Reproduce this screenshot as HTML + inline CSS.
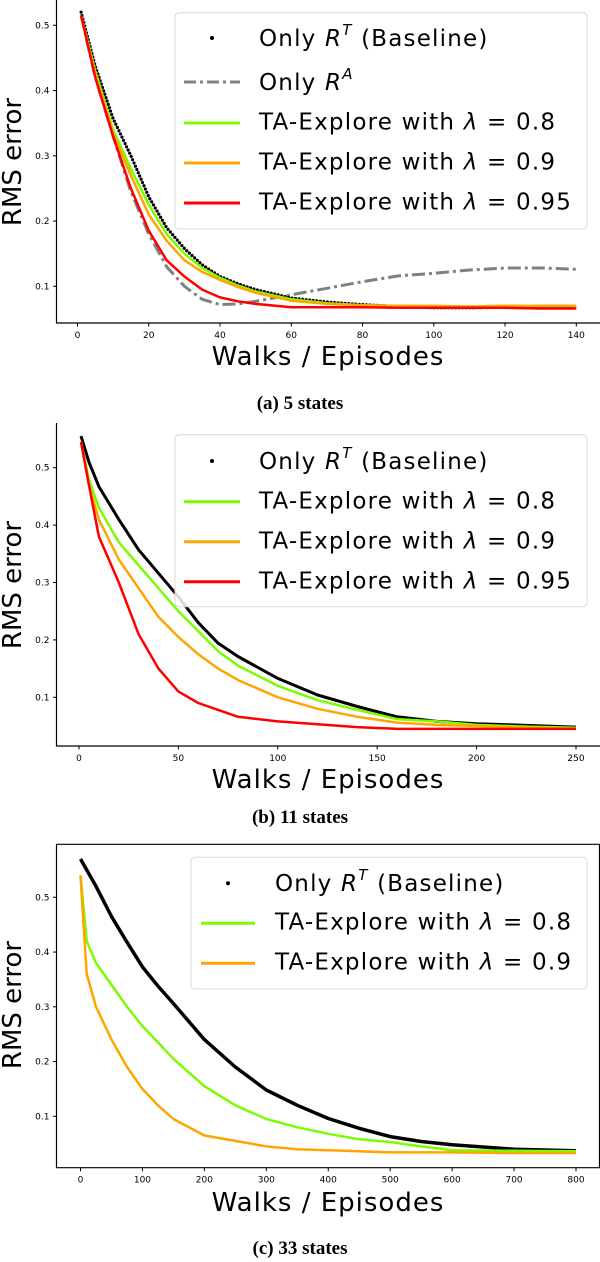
<!DOCTYPE html>
<html><head><meta charset="utf-8"><style>
body{margin:0;background:#fff;width:600px;height:1262px;overflow:hidden;position:relative;font-family:"DejaVu Sans","Liberation Sans",sans-serif}
.lt{position:absolute;font-size:23px;letter-spacing:1.2px;white-space:nowrap;line-height:1;transform:translateY(-50%)}
.cap{position:absolute;font-family:"Liberation Serif",serif;font-weight:bold;font-size:19px;transform:translateX(-50%);white-space:nowrap}
.xl{position:absolute;font-size:26px;letter-spacing:1px;white-space:nowrap;transform:translate(-50%,-50%)}
.yl{position:absolute;font-size:26px;white-space:nowrap;transform:translate(-50%,-50%) rotate(-90deg)}
</style></head><body>
<svg id="chart" width="600" height="1262" style="position:absolute;left:0;top:0"></svg>
<div id="txt"></div>
<script>
// ---- Panel A (5 states) data ----
const aX=[1,5,10,15,20,25,30,35,40,45,50,60,70,80,90,100,110,120,130,140];
const aBase=[0.52,0.437,0.357,0.30,0.237,0.19,0.158,0.133,0.115,0.104,0.095,0.082,0.076,0.072,0.069,0.067,0.067,0.068,0.068,0.068];
const aG8=[0.515,0.43,0.34,0.28,0.225,0.18,0.15,0.128,0.113,0.101,0.092,0.08,0.074,0.071,0.07,0.069,0.069,0.07,0.07,0.07];
const aO9=[0.515,0.425,0.335,0.27,0.21,0.17,0.14,0.122,0.11,0.099,0.09,0.078,0.073,0.071,0.07,0.07,0.069,0.07,0.07,0.07];
const aR95=[0.515,0.42,0.33,0.25,0.185,0.14,0.115,0.095,0.083,0.077,0.073,0.068,0.068,0.068,0.067,0.067,0.067,0.067,0.066,0.066];
const aRA=[0.515,0.42,0.33,0.245,0.18,0.13,0.1,0.08,0.072,0.073,0.077,0.087,0.097,0.107,0.116,0.12,0.125,0.128,0.128,0.126];
const aXt=[0,20,40,60,80,100,120,140];
const aYt=[0.1,0.2,0.3,0.4,0.5];
// ---- Panel B (11 states) data ----
const bX=[1,5,10,20,30,40,50,60,70,80,100,120,140,160,180,200,225,250];
const bBase=[0.555,0.51,0.467,0.41,0.357,0.316,0.275,0.23,0.194,0.171,0.133,0.104,0.084,0.066,0.058,0.054,0.051,0.048];
const bG8=[0.545,0.48,0.43,0.37,0.33,0.29,0.25,0.215,0.18,0.155,0.12,0.095,0.078,0.062,0.058,0.052,0.049,0.047];
const bO9=[0.545,0.47,0.41,0.34,0.29,0.24,0.205,0.175,0.15,0.13,0.1,0.08,0.066,0.056,0.052,0.05,0.047,0.045];
const bR95=[0.545,0.47,0.38,0.3,0.21,0.15,0.11,0.09,0.078,0.066,0.058,0.053,0.048,0.045,0.045,0.045,0.045,0.045];
const bXt=[0,50,100,150,200,250];
const bYt=[0.1,0.2,0.3,0.4,0.5];
// ---- Panel C (33 states) data ----
const cX=[0,10,25,50,75,100,125,150,200,250,300,350,400,450,500,550,600,700,800];
const cBase=[0.57,0.55,0.52,0.465,0.418,0.373,0.338,0.306,0.24,0.19,0.148,0.12,0.096,0.078,0.063,0.054,0.048,0.04,0.037];
const cG8=[0.54,0.42,0.38,0.34,0.3,0.265,0.235,0.205,0.155,0.12,0.095,0.08,0.068,0.058,0.053,0.045,0.038,0.037,0.036];
const cO9=[0.54,0.36,0.3,0.24,0.19,0.15,0.12,0.095,0.065,0.055,0.045,0.04,0.038,0.036,0.034,0.034,0.034,0.033,0.033];
const cXt=[0,100,200,300,400,500,600,700,800];
const cYt=[0.1,0.2,0.3,0.4,0.5];

const NS="http://www.w3.org/2000/svg";
const svg=document.getElementById('chart');
const txt=document.getElementById('txt');
function el(tag,attrs,parent){const e=document.createElementNS(NS,tag);for(const k in attrs)e.setAttribute(k,attrs[k]);(parent||svg).appendChild(e);return e;}
function div(cls,html,css){const d=document.createElement('div');d.className=cls;d.innerHTML=html;d.style.cssText=css;txt.appendChild(d);return d;}

function panel(p){
  const sx=v=>p.x0px+(v-p.x0v)*(p.x1px-p.x0px)/(p.x1v-p.x0v);
  const sy=v=>p.y5px-(0.5-v)*(p.y5px-p.y1px)/0.4;
  const g=el('g',{});
  
  
  const cid=p.name+'-clip';
  const cp=el('clipPath',{id:cid},g);el('rect',{x:p.left,y:p.top,width:600-p.left,height:p.bottom-p.top},cp);
  const ax=el('path',{d:`M${p.left},${p.top}V${p.bottom}H600`+(p.box?`M${p.left},${p.top}H599.5V${p.bottom}`:''),fill:'none',stroke:'#000','stroke-width':1.2},g);
  
  
  p.xt.forEach(v=>{
    el('line',{x1:sx(v),x2:sx(v),y1:p.bottom,y2:p.bottom+3.5,stroke:'#000','stroke-width':1},g);
    const t=el('text',{x:sx(v),y:p.bottom+15,'font-size':9,'text-anchor':'middle','font-family':'DejaVu Sans,sans-serif'},g);
    t.textContent=String(v);
    
    
  });
  p.yt.forEach(v=>{
    el('line',{x1:p.left-3.5,x2:p.left,y1:sy(v),y2:sy(v),stroke:'#000','stroke-width':1},g);
    const t=el('text',{x:p.left-7,y:sy(v)+3,'font-size':9,'text-anchor':'end','font-family':'DejaVu Sans,sans-serif'},g);
    t.textContent=v.toFixed(1);
    
    
  });
  const lines=el('g',{'clip-path':`url(#${cid})`},g);
  p.series.forEach(s=>{
    const d=s.y.map((v,i)=>(i?'L':'M')+sx(p.xs[i]).toFixed(1)+','+sy(v).toFixed(1)).join('');
    const at={d:d,fill:'none',stroke:s.c,'stroke-width':s.w,'stroke-linejoin':'round','stroke-linecap':s.cap||'butt'};
    if(s.dash)at['stroke-dasharray']=s.dash;
    const l=el('path',at,lines);
    
    
  });
  const lg=el('rect',{x:p.lg[0],y:p.lg[1],width:p.lg[2]-p.lg[0],height:p.lg[3]-p.lg[1],rx:4,fill:'#fff','fill-opacity':0.85,stroke:'#d8d8d8','stroke-width':1});
  
  
  p.leg.forEach((e,i)=>{
    const y=p.rows[i];
    if(e.dot){const c=el('circle',{cx:(p.h0+p.h1)/2,cy:y,r:2,fill:'#000'});}
    else{const a={x1:p.h0,x2:p.h1,y1:y,y2:y,stroke:e.c,'stroke-width':3};if(e.dash)a['stroke-dasharray']=e.dash;const l=el('line',a);}
    const t=div('lt',e.t,`left:${p.tx}px;top:${y}px`);
    
    
  });
  const xl=div('xl','Walks / Episodes',`left:328px;top:${p.xly}px`);
  
  const yl=div('yl','RMS error',`left:13px;top:${p.yly}px`);
  
  const cap=div('cap',p.cap,`left:300px;top:${p.capy-11}px`);
  
}
const RT='Only <i>R</i><sup style="font-size:15px;position:relative;top:-2px"><i>T</i></sup> (Baseline)';
const RA='Only <i>R</i><sup style="font-size:15px;position:relative;top:-2px"><i>A</i></sup>';
const L=v=>'TA-Explore with <i>λ</i> = '+v;
panel({name:'panel-a',left:56.5,top:0,bottom:323,box:false,x0v:0,x1v:140,x0px:77.5,x1px:576.3,y5px:25.3,y1px:286.3,
  xs:aX,xt:aXt,yt:aYt,
  series:[{n:'series-only-ra',y:aRA,c:'#808080',w:3,dash:'13 4 3 4'},{n:'series-baseline',y:aBase,c:'#000',w:3.2,dash:'0 3.56',cap:'round'},
    {n:'series-lambda-0.8',y:aG8,c:'#7CFC00',w:2.5},{n:'series-lambda-0.9',y:aO9,c:'#FFA500',w:2.5},{n:'series-lambda-0.95',y:aR95,c:'#FF0000',w:2.5}],
  lg:[175,12.7,587,229],rows:[38,82,123,163,203],h0:184,h1:240,tx:259,
  leg:[{dot:1,t:RT},{c:'#808080',dash:'12 4 3 4',t:RA},{c:'#7CFC00',t:L('0.8')},{c:'#FFA500',t:L('0.9')},{c:'#FF0000',t:L('0.95')}],
  xly:357,yly:162,capy:404,cap:'(a) 5 states'});
panel({name:'panel-b',left:56.5,top:423,bottom:746,box:false,x0v:0,x1v:250,x0px:79,x1px:576,y5px:467.7,y1px:697.3,
  xs:bX,xt:bXt,yt:bYt,
  series:[{n:'series-baseline',y:bBase,c:'#000',w:3},{n:'series-lambda-0.8',y:bG8,c:'#7CFC00',w:2.5},{n:'series-lambda-0.9',y:bO9,c:'#FFA500',w:2.5},{n:'series-lambda-0.95',y:bR95,c:'#FF0000',w:2.5}],
  lg:[175,434.7,587,606.7],rows:[461,501.7,541.7,581.7],h0:184,h1:240,tx:259,
  leg:[{dot:1,t:RT},{c:'#7CFC00',t:L('0.8')},{c:'#FFA500',t:L('0.9')},{c:'#FF0000',t:L('0.95')}],
  xly:780,yly:585,capy:818,cap:'(b) 11 states'});
panel({name:'panel-c',left:56.5,top:844.3,bottom:1167.7,box:true,x0v:0,x1v:800,x0px:80.5,x1px:576,y5px:897.3,y1px:1116.3,
  xs:cX,xt:cXt,yt:cYt,
  series:[{n:'series-baseline',y:cBase,c:'#000',w:3.5},{n:'series-lambda-0.8',y:cG8,c:'#7CFC00',w:2.5},{n:'series-lambda-0.9',y:cO9,c:'#FFA500',w:2.5}],
  lg:[191,857.3,587,989],rows:[883.3,923.3,963.3],h0:201,h1:255,tx:275,
  leg:[{dot:1,t:RT},{c:'#7CFC00',t:L('0.8')},{c:'#FFA500',t:L('0.9')}],
  xly:1203,yly:1005,capy:1249,cap:'(c) 33 states'});
</script>
</body></html>
